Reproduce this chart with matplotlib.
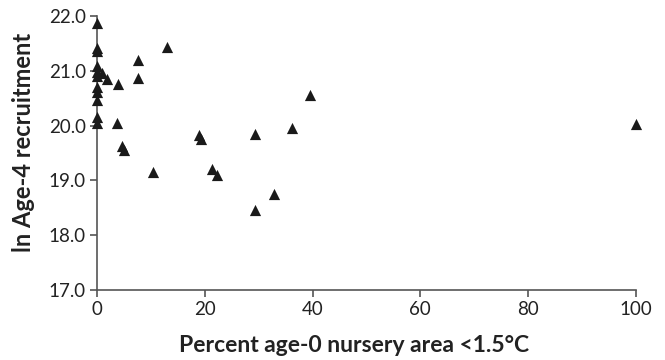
import matplotlib
matplotlib.use("Agg")
import matplotlib.pyplot as plt

pct_area = [0, 0, 0, 0, 0, 0, 0, 0, 0, 0, 0,
            1.0, 1.8, 3.9, 3.7, 7.6, 7.6, 13.0,
            4.6, 5.0, 10.4, 18.9, 19.3, 21.3, 22.3,
            29.3, 29.3, 32.8, 36.2, 39.5, 100.0]
ln_recruit = [21.87, 21.42, 21.36, 21.08, 20.98, 20.90, 20.70, 20.62, 20.47, 20.15, 20.05,
              20.96, 20.84, 20.75, 20.05, 21.20, 20.87, 21.44,
              19.62, 19.56, 19.15, 19.82, 19.75, 19.20, 19.10,
              19.85, 18.47, 18.75, 19.95, 20.56, 20.02]
x_ticks = [0, 20, 40, 60, 80, 100]
y_ticks = [17.0, 18.0, 19.0, 20.0, 21.0, 22.0]

plt.rcParams['font.family'] = ['Lato', 'DejaVu Sans']

fig = plt.figure(figsize=(6.65, 3.6), dpi=100)
ax = fig.add_axes([0.146, 0.194, 0.81, 0.762])
ax.scatter(pct_area, ln_recruit, marker='^', s=65, color='#1a1a1a', zorder=3, clip_on=False, linewidths=0)
ax.set_xlim(0, 100)
ax.set_ylim(17.0, 22.0)
ax.set_xticks(x_ticks)
ax.set_xticklabels([str(v) for v in x_ticks])
ax.set_yticks(y_ticks)
ax.set_yticklabels([f"{v:.1f}" for v in y_ticks])
for s in ['top', 'right']:
    ax.spines[s].set_visible(False)
for s in ['left', 'bottom']:
    ax.spines[s].set_color('#555555')
    ax.spines[s].set_linewidth(1.2)
ax.tick_params(axis='both', direction='out', length=5, width=1.2, color='#555555',
               labelsize=13.5, labelcolor='#222222', pad=3)
ax.set_xlabel('Percent age-0 nursery area <1.5°C', fontsize=16.5, fontweight='bold', color='#222222')
ax.set_ylabel('ln Age-4 recruitment', fontsize=17, fontweight='bold', color='#222222')
ax.xaxis.set_label_coords(0.477, -0.165)
ax.yaxis.set_label_coords(-0.115, 0.54)
fig.savefig('out.png', dpi=100)
